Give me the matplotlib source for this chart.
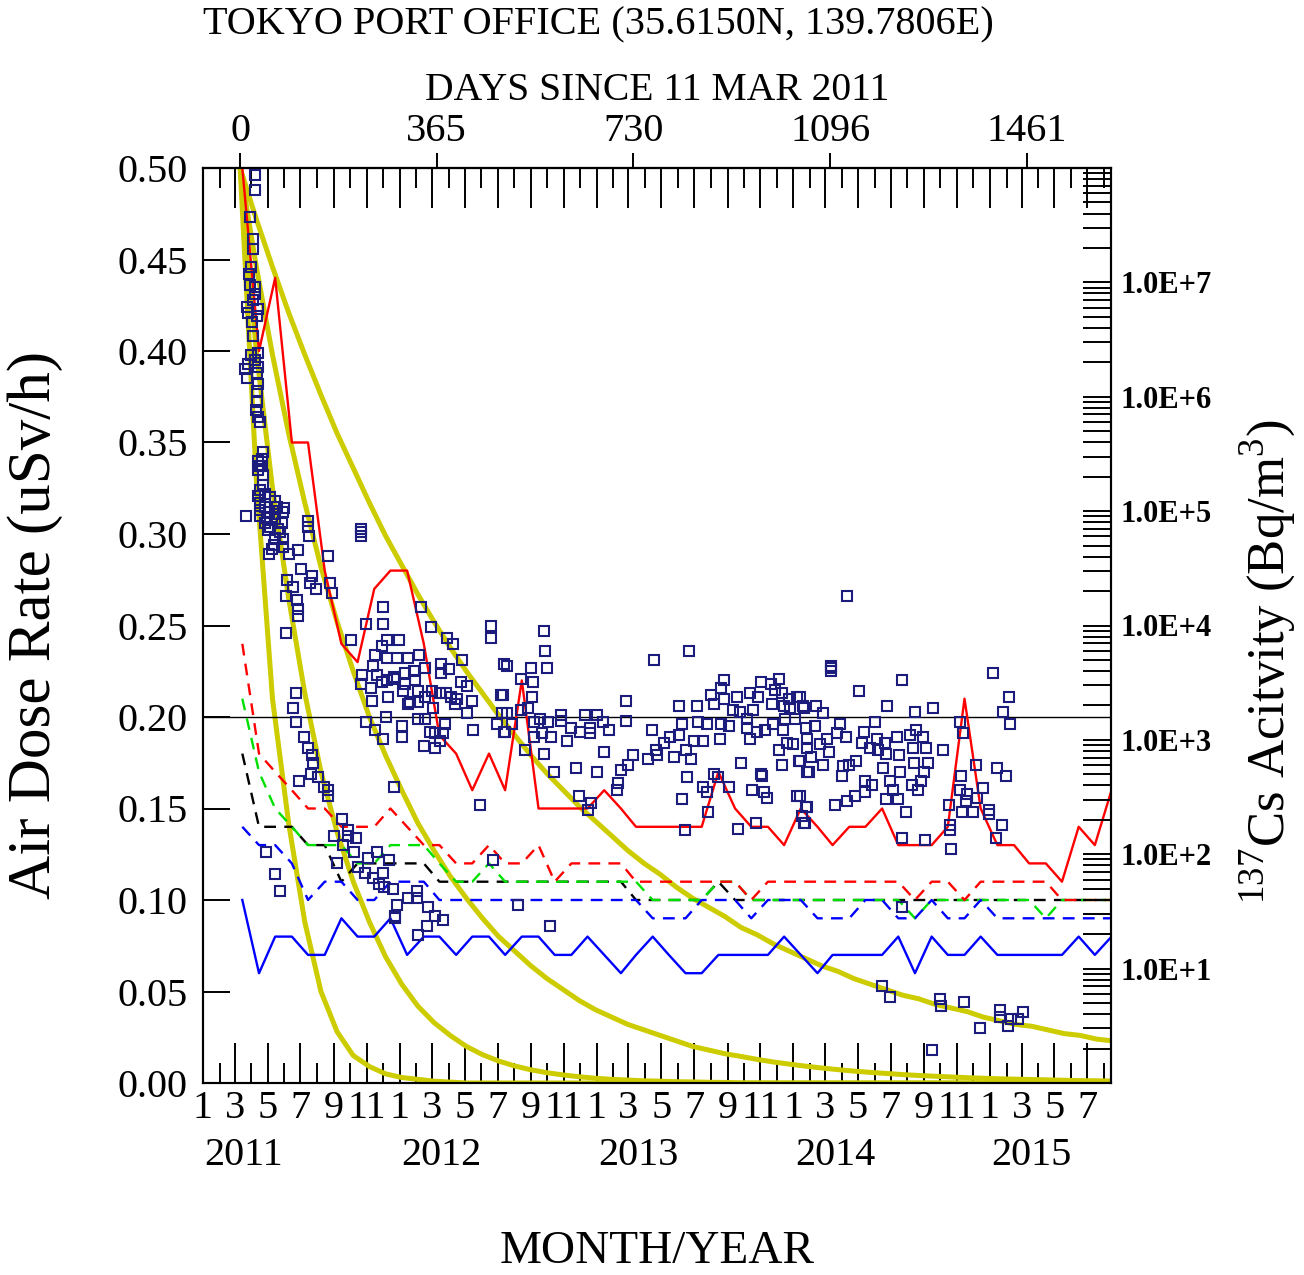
# -*- coding: utf-8 -*-
"""
Air dose rate at Tokyo Port Office, 137Cs activity lines and decay curves
"""
import numpy as np
import pandas as pd
import matplotlib
matplotlib.use('Agg')
import matplotlib.pyplot as plt
from matplotlib.ticker import LogLocator, FuncFormatter, NullFormatter

plt.rcParams['font.family'] = ['Liberation Serif', 'DejaVu Serif']
plt.rcParams['mathtext.fontset'] = 'custom'
plt.rcParams['mathtext.rm'] = 'Liberation Serif'

start = pd.Timestamp('2011-03-11')

#Monthly values Mar 2011 - Aug 2015, plotted at the middle of each month
red_solid = [0.50, 0.40, 0.44, 0.35, 0.35, 0.28, 0.24, 0.23, 0.27, 0.28,
             0.28, 0.24, 0.19, 0.18, 0.16, 0.18, 0.16, 0.22, 0.15, 0.15, 0.15, 0.15,
             0.16, 0.15, 0.14, 0.14, 0.14, 0.14, 0.14, 0.17, 0.15, 0.14, 0.14, 0.13,
             0.15, 0.14, 0.13, 0.14, 0.14, 0.15, 0.13, 0.13, 0.13, 0.14, 0.21, 0.15,
             0.13, 0.13, 0.12, 0.12, 0.11, 0.14, 0.13, 0.16]
blue_solid = [0.10, 0.06, 0.08, 0.08, 0.07, 0.07, 0.09, 0.08, 0.08, 0.09,
              0.07, 0.08, 0.08, 0.07, 0.08, 0.08, 0.07, 0.08, 0.08, 0.07, 0.07, 0.08,
              0.07, 0.06, 0.07, 0.08, 0.07, 0.06, 0.06, 0.07, 0.07, 0.07, 0.07, 0.08,
              0.07, 0.06, 0.07, 0.07, 0.07, 0.07, 0.08, 0.06, 0.08, 0.07, 0.07, 0.08,
              0.07, 0.07, 0.07, 0.07, 0.07, 0.08, 0.07, 0.08]
red_dashed = [0.24, 0.18, 0.17, 0.16, 0.15, 0.15, 0.14, 0.14, 0.14, 0.15,
              0.14, 0.13, 0.13, 0.12, 0.12, 0.13, 0.12, 0.12, 0.13, 0.11, 0.12, 0.12,
              0.12, 0.12, 0.11, 0.11, 0.11, 0.11, 0.11, 0.11, 0.11, 0.10, 0.11, 0.11,
              0.11, 0.11, 0.11, 0.11, 0.11, 0.11, 0.11, 0.10, 0.11, 0.11, 0.10, 0.11,
              0.11, 0.11, 0.11, 0.11, 0.10, 0.10, 0.10, 0.10]
black_dashed = [0.18, 0.14, 0.14, 0.14, 0.13, 0.13, 0.11, 0.12, 0.12, 0.12,
                0.12, 0.12, 0.11, 0.11, 0.11, 0.11, 0.11, 0.11, 0.11, 0.11, 0.11, 0.11,
                0.11, 0.11, 0.10, 0.10, 0.10, 0.10, 0.10, 0.11, 0.10, 0.10, 0.10, 0.10,
                0.10, 0.10, 0.10, 0.10, 0.10, 0.10, 0.10, 0.10, 0.10, 0.10, 0.10, 0.10,
                0.10, 0.10, 0.10, 0.10, 0.10, 0.10, 0.10, 0.10]
green_dashed = [0.21, 0.17, 0.15, 0.14, 0.13, 0.13, 0.13, 0.12, 0.12, 0.13,
                0.13, 0.13, 0.12, 0.11, 0.11, 0.12, 0.11, 0.11, 0.11, 0.11, 0.11, 0.11,
                0.11, 0.11, 0.11, 0.10, 0.10, 0.10, 0.10, 0.11, 0.11, 0.10, 0.10, 0.10,
                0.10, 0.10, 0.10, 0.10, 0.10, 0.10, 0.10, 0.09, 0.10, 0.10, 0.10, 0.10,
                0.10, 0.10, 0.10, 0.09, 0.10, 0.10, 0.10, 0.10]
blue_dashed = [0.14, 0.13, 0.13, 0.12, 0.10, 0.11, 0.11, 0.10, 0.10, 0.11,
               0.11, 0.11, 0.10, 0.10, 0.10, 0.10, 0.10, 0.10, 0.10, 0.10, 0.10, 0.10,
               0.10, 0.10, 0.10, 0.09, 0.09, 0.09, 0.10, 0.10, 0.10, 0.09, 0.10, 0.10,
               0.10, 0.09, 0.09, 0.09, 0.10, 0.10, 0.09, 0.09, 0.10, 0.09, 0.09, 0.10,
               0.09, 0.09, 0.09, 0.09, 0.09, 0.09, 0.09, 0.09]

#Decay curves, one value every 30 days from 11 Mar 2011
curve_step = 30
yellow_a = [0.500, 0.330, 0.210, 0.142, 0.088, 0.050, 0.028, 0.015, 0.009, 0.005,
            0.003, 0.002, 0.001, 0.0005, 0, 0, 0, 0, 0, 0,
            0, 0, 0, 0, 0, 0, 0, 0, 0, 0,
            0, 0, 0, 0, 0, 0, 0, 0, 0, 0,
            0, 0, 0, 0, 0, 0, 0, 0, 0, 0,
            0, 0, 0, 0, 0]
yellow_b = [0.500, 0.400, 0.325, 0.265, 0.213, 0.170, 0.137, 0.110, 0.088, 0.069,
            0.054, 0.042, 0.033, 0.026, 0.020, 0.0155, 0.012, 0.0093, 0.0072, 0.0056,
            0.0044, 0.0034, 0.0026, 0.002, 0.0016, 0.0012, 0.001, 0.0007, 0.0006, 0.0004,
            0.0003, 0, 0, 0, 0, 0, 0, 0, 0, 0,
            0, 0, 0, 0, 0, 0, 0, 0, 0, 0,
            0, 0, 0, 0, 0]
yellow_c = [0.500, 0.446, 0.398, 0.355, 0.317, 0.282, 0.252, 0.225, 0.200, 0.179,
            0.160, 0.142, 0.127, 0.113, 0.101, 0.090, 0.080, 0.072, 0.064, 0.057,
            0.051, 0.045, 0.040, 0.036, 0.032, 0.029, 0.026, 0.023, 0.020, 0.018,
            0.016, 0.0145, 0.0129, 0.0115, 0.0103, 0.0092, 0.0082, 0.0073, 0.0065, 0.0058,
            0.0052, 0.0046, 0.0041, 0.0037, 0.0033, 0.0029, 0.0026, 0.0023, 0.0021, 0.0019,
            0.0017, 0.0015, 0.0013, 0.0012, 0.0011]
yellow_d = [0.500, 0.472, 0.446, 0.421, 0.398, 0.376, 0.355, 0.336, 0.317, 0.299,
            0.283, 0.267, 0.252, 0.238, 0.225, 0.213, 0.201, 0.190, 0.179, 0.169,
            0.160, 0.151, 0.143, 0.135, 0.127, 0.120, 0.114, 0.107, 0.101, 0.096,
            0.091, 0.085, 0.081, 0.076, 0.072, 0.068, 0.064, 0.061, 0.057, 0.054,
            0.051, 0.048, 0.046, 0.043, 0.041, 0.039, 0.036, 0.034, 0.032, 0.031,
            0.029, 0.027, 0.026, 0.024, 0.023]

#Air dose rate readings: (days since 11 Mar 2011, uSv/h)
dose_points = [
    (28, .496), (28, .488), (19, .473), (23, .461), (23, .456), (20, .446), (17, .442),
    (19, .436), (28, .435), (27, .431), (23, .428), (12, .424), (33, .423), (15, .421),
    (31, .419), (22, .416), (23, .408), (20, .398), (34, .399), (15, .393), (28, .395),
    (9, .390), (12, .385), (34, .391), (31, .388), (34, .382), (31, .378), (31, .372),
    (29, .368), (34, .364), (37, .361), (43, .345), (40, .341), (37, .337),
    (34, .340), (40, .337), (34, .335), (43, .332), (43, .327), (37, .324), (34, .321),
    (46, .322), (56, .320), (37, .317), (65, .318), (46, .315), (68, .315), (82, .314),
    (37, .313), (53, .312), (80, .312), (65, .311), (11, .310), (37, .310), (50, .309),
    (65, .308), (77, .306), (46, .306), (56, .304), (71, .303), (126, .307), (126, .304),
    (51, .302), (74, .301), (128, .299), (65, .298), (79, .297), (62, .294), (59, .292),
    (79, .293), (53, .289), (91, .289), (107, .291), (224, .303), (224, .301), (224, .299),
    (163, .288), (113, .281), (134, .277), (87, .275), (99, .271), (129, .273), (141, .270),
    (166, .273), (170, .268), (85, .266), (105, .264), (107, .259), (107, .255), (85, .246),
    (266, .260), (233, .251), (266, .251), (335, .260), (355, .249), (466, .250), (465, .243),
    (206, .242), (272, .242), (295, .242), (384, .243), (396, .240), (263, .239), (251, .234),
    (272, .232), (291, .232), (311, .232), (332, .234), (412, .231), (489, .229), (247, .228),
    (343, .227), (373, .229), (388, .226), (226, .223), (254, .223), (286, .222), (306, .224),
    (322, .225), (373, .224), (225, .218), (243, .216), (263, .219), (272, .220), (286, .221),
    (306, .218), (325, .220), (330, .214), (343, .211), (356, .214), (371, .213), (382, .213),
    (392, .211), (402, .210), (410, .219), (421, .217), (485, .212), (245, .209), (274, .211),
    (303, .214), (316, .208), (330, .208), (312, .207), (358, .205), (430, .209), (399, .207),
    (421, .202), (487, .202), (271, .200), (233, .197), (251, .193), (266, .188), (301, .195),
    (301, .189), (331, .199), (343, .199), (353, .192), (361, .191), (377, .191), (381, .196),
    (371, .187), (342, .184), (362, .183), (433, .193), (477, .196), (491, .192),
    (104, .213), (98, .205), (104, .197), (118, .189), (126, .183), (133, .179), (135, .175),
    (132, .169), (145, .167), (110, .165), (155, .162), (164, .160), (164, .157), (286, .162),
    (446, .152), (189, .144), (200, .138), (175, .135), (200, .135), (215, .134), (191, .130),
    (212, .126), (254, .126), (237, .123), (277, .122), (180, .120), (219, .118), (231, .115),
    (266, .115), (247, .112), (258, .109), (267, .107), (284, .106), (470, .122), (48, .126),
    (64, .114), (74, .105), (328, .105), (311, .101), (291, .097), (288, .091), (288, .090),
    (328, .101), (348, .096), (361, .091), (376, .089), (347, .086), (331, .081),
    (565, .247), (566, .236), (495, .228), (540, .227), (569, .227), (543, .219), (521, .221),
    (769, .231), (834, .236), (488, .212), (542, .211), (521, .204), (535, .205), (496, .202),
    (717, .209), (504, .196), (556, .199), (545, .197), (572, .197), (596, .201), (596, .198),
    (614, .194), (641, .201), (649, .194), (649, .191), (663, .201), (673, .197), (684, .193),
    (717, .198), (490, .192), (546, .189), (561, .191), (577, .189), (607, .187), (631, .192),
    (529, .182), (564, .180), (675, .181), (764, .193), (583, .170), (624, .172), (663, .170),
    (707, .171), (721, .174), (729, .179), (757, .177), (774, .179), (772, .182), (787, .186),
    (798, .189), (805, .178), (814, .190), (820, .196), (815, .206), (827, .182), (837, .177),
    (843, .187), (849, .206), (851, .197), (859, .187), (867, .196), (875, .212), (880, .207),
    (891, .188), (893, .196), (893, .216), (899, .220), (899, .210), (908, .195), (916, .204),
    (923, .211), (928, .203), (930, .175), (941, .199), (942, .194), (947, .188), (947, .213),
    (953, .204), (960, .192), (962, .211), (967, .219), (967, .169), (975, .193), (985, .218),
    (987, .207), (989, .196), (993, .215), (1001, .221), (1006, .213), (1008, .193),
    (1001, .182), (1006, .174), (1010, .206), (1012, .199), (1016, .186), (1020, .210),
    (1021, .205), (1027, .185), (1030, .199), (1034, .211), (1038, .176), (1046, .206),
    (1051, .194), (1052, .188), (1053, .183), (1052, .170),
    (829, .167), (879, .169), (888, .167), (907, .162), (859, .162), (867, .159), (701, .164),
    (699, .160), (629, .157), (652, .153), (645, .149), (820, .155), (868, .148), (826, .138),
    (969, .168), (950, .160), (972, .159), (978, .156), (1034, .157), (1052, .151),
    (1043, .146), (1047, .142), (925, .139), (958, .142), (515, .097), (576, .086),
    (1126, .266), (1097, .228), (1097, .227), (1097, .225), (1150, .214), (1229, .220),
    (1397, .224), (1427, .211), (1417, .203), (1430, .196), (1201, .206), (1286, .205),
    (1253, .203), (1047, .205), (1069, .206), (1082, .202), (1040, .211), (1337, .197),
    (1342, .191), (1068, .195), (1114, .196), (1179, .197), (1255, .193), (1089, .188),
    (1108, .191), (1125, .189), (1159, .192), (1183, .188), (1219, .189), (1243, .190),
    (1268, .189), (1076, .185), (1094, .181), (1154, .186), (1170, .183), (1185, .182),
    (1198, .186), (1199, .180), (1224, .179), (1250, .183), (1274, .183), (1305, .182),
    (1060, .178), (1082, .174), (1040, .176), (1119, .173), (1131, .174), (1144, .176),
    (1193, .172), (1251, .175), (1278, .175), (1367, .174), (1405, .172), (1057, .170),
    (1225, .170), (1269, .170), (1117, .168), (1338, .168), (1422, .168),
    (1160, .165), (1207, .165), (1173, .163), (1247, .163), (1264, .165), (1160, .159),
    (1213, .160), (1259, .160), (1142, .157), (1126, .154), (1105, .152), (1051, .151),
    (1040, .157), (1049, .142), (1199, .155), (1222, .155), (1237, .148), (1336, .160),
    (1349, .158), (1348, .154), (1368, .156), (1380, .161), (1317, .152), (1318, .141),
    (1318, .138), (1320, .128), (1340, .148), (1360, .148), (1391, .149), (1391, .147),
    (1414, .141), (1404, .134), (1229, .134), (1272, .133), (1229, .096), (1191, .053),
    (1206, .047), (1300, .046), (1301, .042), (1344, .044), (1374, .030), (1410, .040),
    (1410, .036), (1431, .035), (1445, .035), (1453, .039), (1425, .031), (1284, .018),
]

day_marks = [0, 365, 730, 1096, 1461]
years = [2011, 2012, 2013, 2014, 2015]

#x positions (days since 11 Mar 2011)
month_mid = pd.date_range('2011-03-01', periods=len(red_solid), freq='MS') + pd.Timedelta(days=14)
month_x = np.array((month_mid - start).days)
curve_x = np.arange(len(yellow_d)) * curve_step
dose = np.array(dose_points)

fig = plt.figure(figsize=(13.04, 12.75), dpi=100)
ax = fig.add_axes([203/1304, 192/1275, 908/1304, 915/1275])

yellow = '#cccc00'
for curve in [yellow_a, yellow_b, yellow_c, yellow_d]:
    ax.plot(curve_x, curve, color=yellow, lw=3.6, zorder=2)

ax.axhline(0.2, color='black', lw=1.0, zorder=2.5)

dash = (0, (5, 3.5))
ax.plot(month_x, black_dashed, color='black', lw=1.7, ls=dash, zorder=3)
ax.plot(month_x, green_dashed, color='#00e000', lw=1.7, ls=dash, zorder=3)
ax.plot(month_x, red_dashed, color='red', lw=1.7, ls=dash, zorder=3)
ax.plot(month_x, blue_dashed, color='blue', lw=1.7, ls=dash, zorder=3)
ax.plot(month_x, red_solid, color='red', lw=1.7, zorder=3)
ax.plot(month_x, blue_solid, color='blue', lw=1.7, zorder=3)

ax.plot(dose[:, 0], dose[:, 1], 's', ls='none', mfc='none', mec='#1c1c7c',
        ms=7.5, mew=1.5, zorder=4)

ax.set_xlim(-69, 1617)
ax.set_ylim(0, 0.5)

#Month ticks: long on odd months (labelled), short on even months
month_starts = pd.date_range('2011-01-01', '2015-08-01', freq='MS')
month_days = np.array((month_starts - start).days)
odd = np.array(month_starts.month % 2 == 1)
ax.set_xticks(month_days[odd])
ax.set_xticklabels([str(m) for m in month_starts.month[odd]])
ax.set_xticks(month_days[~odd], minor=True)
ax.tick_params(axis='x', which='both', direction='in', top=True, bottom=True, width=1.4)
ax.tick_params(axis='x', which='major', length=28.8, labelsize=29, pad=5)
ax.tick_params(axis='x', which='minor', length=14.4)

ax.set_yticks(np.arange(0, 0.51, 0.05))
ax.set_yticklabels(['%.2f' % v for v in np.arange(0, 0.51, 0.05)])
ax.tick_params(axis='y', direction='in', length=19.4, width=1.4, labelsize=29,
               pad=11, right=False)
for sp in ax.spines.values():
    sp.set_linewidth(1.5)

for yr in years:
    d = (pd.Timestamp('%d-01-01' % yr) - start).days
    ax.text(d + 3, -0.0896, str(yr), transform=ax.get_xaxis_transform(),
            ha='left', va='baseline', fontsize=29)

#Days axis on top
sec = ax.secondary_xaxis('top')
sec.set_xticks(day_marks)
sec.set_xticklabels([str(d) for d in day_marks])
sec.tick_params(direction='out', length=10.8, width=1.4, labelsize=29, pad=2)
sec.spines['top'].set_linewidth(1.5)

#Right log axis for 137Cs activity
axr = ax.twinx()
axr.set_yscale('log')
axr.set_ylim(1, 1e8)
axr.yaxis.set_major_locator(LogLocator(base=10, numticks=20))
axr.yaxis.set_minor_locator(LogLocator(base=10, subs=np.arange(2, 10), numticks=20))
axr.yaxis.set_major_formatter(FuncFormatter(
    lambda v, p: '' if v < 5 or v > 5e7 else '1.0E+%d' % round(np.log10(v))))
axr.yaxis.set_minor_formatter(NullFormatter())
axr.tick_params(axis='y', which='both', direction='in', length=20, width=1.4)
axr.tick_params(axis='y', which='major', labelsize=22, pad=6.5)
for lab in axr.get_yticklabels():
    lab.set_fontweight('bold')
for sp in axr.spines.values():
    sp.set_linewidth(1.5)

fig.text(203/1304, 1 - 25/1275, 'TOKYO PORT OFFICE (35.6150N, 139.7806E)',
         ha='left', va='center', fontsize=29)
fig.text(657/1304, 1 - 90/1275, 'DAYS SINCE 11 MAR 2011', ha='center', va='center',
         fontsize=28.5)
fig.text(35/1304, 1 - 625/1275, 'Air Dose Rate (uSv/h)', rotation=90,
         ha='center', va='center', fontsize=44)
fig.text(657/1304, 1 - 1252/1275, 'MONTH/YEAR', ha='center', va='center', fontsize=34)
fig.text(1268/1304, 1 - 662/1275, r'$^{137}$Cs Acitvity (Bq/m$^3$)', rotation=90,
         ha='center', va='center', fontsize=38)

fig.savefig('out.png', dpi=100)
